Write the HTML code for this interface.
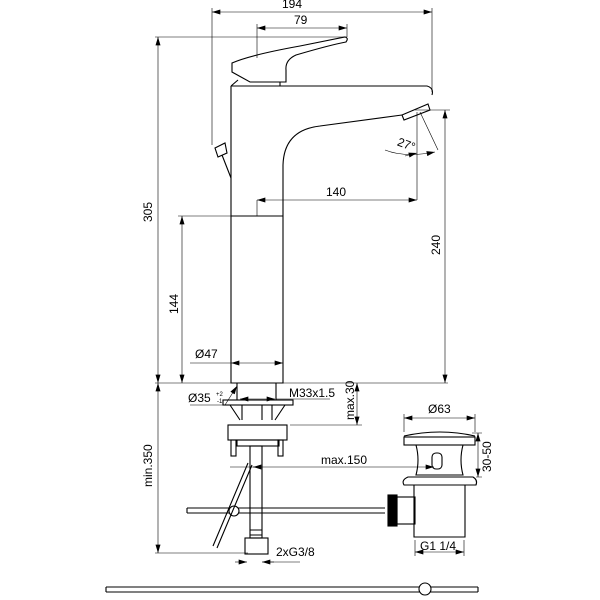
<!DOCTYPE html>
<html><head><style>body{margin:0;background:#fff}svg{display:block}text{font-family:"Liberation Sans",sans-serif;font-size:12px;fill:#000}</style></head><body>
<svg width="600" height="600" viewBox="0 0 600 600" xmlns="http://www.w3.org/2000/svg">
<defs>
<marker id="a" viewBox="0 0 10 6" refX="10" refY="3" markerUnits="userSpaceOnUse" markerWidth="9" markerHeight="5" orient="auto-start-reverse"><path d="M0,0L10,3L0,6z" fill="#000"/></marker>
</defs>
<g stroke="#000" fill="none" stroke-width="0.6">
<path d="M212,8V145M432,8V92M257,24V58M347,24V37M155,37H347M415,110H450M417,112V200M257,200V216M178,216H231M190,363H231M155,383H448M155,553H248M290,425H362M230,467H260M404,414V432M475,414V432M482,433H472M482,477H476M415,540V556M464,540V556M268,562H300M276,399H330"/>
</g>
<g stroke="#000" fill="none" stroke-width="0.6" marker-start="url(#a)" marker-end="url(#a)">
<line x1="212" y1="12" x2="432" y2="12"/>
<line x1="257" y1="28" x2="347" y2="28"/>
<line x1="158" y1="37" x2="158" y2="383"/>
<line x1="445" y1="110" x2="445" y2="383"/>
<line x1="257" y1="200" x2="417" y2="200"/>
<line x1="182" y1="216" x2="182" y2="383"/>
<line x1="231" y1="363" x2="283" y2="363"/>
<line x1="158" y1="383" x2="158" y2="553"/>
<line x1="357" y1="383" x2="357" y2="425"/>
<line x1="253" y1="467" x2="434" y2="467"/>
<line x1="404" y1="418" x2="475" y2="418"/>
<line x1="478" y1="433" x2="478" y2="477"/>
<line x1="415" y1="552" x2="464" y2="552"/>
<line x1="240" y1="399" x2="275" y2="399"/>
</g>
<g stroke="#000" fill="none" stroke-width="0.6">
<line x1="235" y1="562" x2="247" y2="562" marker-end="url(#a)"/>
<line x1="274" y1="562" x2="262" y2="562" marker-end="url(#a)"/>
<path d="M190,405H225L237,386" marker-end="url(#a)"/>
<path d="M420,112L438,150"/>
<path d="M385,150Q405,158 435,152" marker-end="url(#a)"/>
<line x1="405" y1="156" x2="417" y2="153" marker-end="url(#a)"/>
</g>
<g stroke="#000" fill="none" stroke-width="1.1">
<path d="M232,63Q250,55 300,46L345,37Q349,38 346,42Q330,45 296,55Q285,60 286,70L286,82H250L232,72Z"/>
<path d="M238,80L231,86M280,82V86"/>
<path d="M231,86H427Q434,88 432,95M231,86V383H283V165Q284,130 320,126L402,115"/>
<path d="M231,216H283"/>
<path d="M402,115L428,104L430,110L404,120Z"/>
<path d="M215,148L225,143L227,153L218,157ZM222,155L231,178"/>
<path d="M237,383V400M276,383V400"/>
<rect x="223" y="400" width="70" height="5"/>
<path d="M230,405L240,420M285,405L275,420M242,405V420M272,405V420M262,405V420"/>
<rect x="228" y="425" width="59" height="15"/>
<rect x="237" y="440" width="42" height="6"/>
<rect x="231" y="440" width="5" height="16"/>
<rect x="278" y="440" width="5" height="16"/>
<rect x="250" y="446" width="12" height="92"/>
<rect x="245" y="538" width="23" height="16"/>
<path d="M250,530H262M250,535H262"/>
<path d="M187,508H385M187,513H385M187,508V513"/>
<circle cx="234" cy="511" r="5" fill="#fff"/>
<path d="M248,463L213,546M252,465L217,548"/>
<path d="M404,436Q440,428 475,436"/>
<rect x="404" y="437" width="71" height="8"/>
<path d="M416,445Q420,460 416,475H463Q459,460 463,445"/>
<rect x="432" y="453" width="10" height="16" rx="4"/>
<path d="M408,477H473Q478,480 476,485H404Q401,480 408,477Z"/>
<path d="M414,485V537H465V485"/>
<rect x="397" y="497" width="18" height="27"/>
<rect x="388" y="495" width="9" height="31" fill="#000"/>
<path d="M106,587H478M106,592H478M106,587V592M478,587V592"/>
<circle cx="425" cy="589" r="6" fill="#fff"/>
</g>
<text x="282" y="8">194</text>
<text x="294" y="24">79</text>
<text x="326" y="196">140</text>
<text x="397" y="148" transform="rotate(20 405 145)">27°</text>
<text x="195" y="358">Ø47</text>
<text x="289" y="397">M33x1.5</text>
<text x="188" y="402">Ø35</text>
<text x="216" y="396" style="font-size:6px">+2</text>
<text x="217" y="403" style="font-size:6px">-1</text>
<text x="321" y="464">max.150</text>
<text x="428" y="413">Ø63</text>
<text x="420" y="550">G1 1/4</text>
<text x="276" y="556">2xG3/8</text>
<text transform="translate(152,222) rotate(-90)">305</text>
<text transform="translate(178,314) rotate(-90)">144</text>
<text transform="translate(440,255) rotate(-90)">240</text>
<text transform="translate(354,420) rotate(-90)">max.30</text>
<text transform="translate(152,487) rotate(-90)">min.350</text>
<text transform="translate(491,472) rotate(-90)">30-50</text>
</svg>
</body></html>
